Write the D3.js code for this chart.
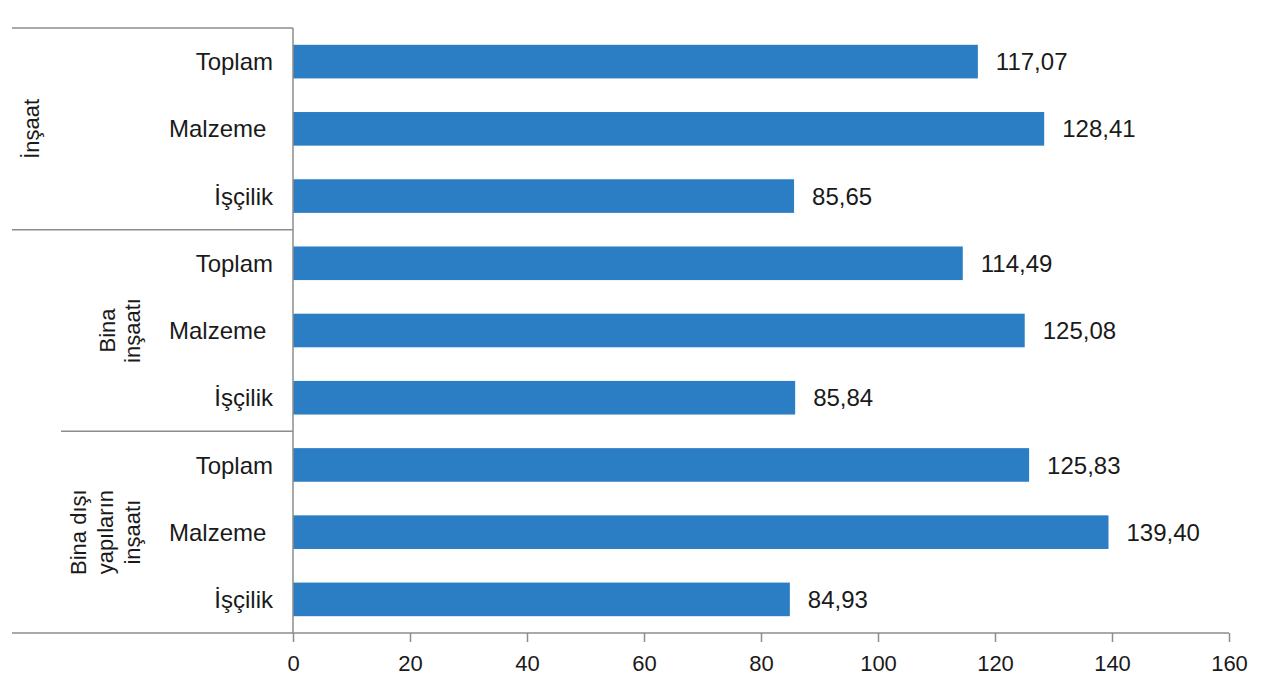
<!DOCTYPE html>
<html>
<head>
<meta charset="utf-8">
<script src="https://cdn.jsdelivr.net/npm/d3@7"></script>
<style>
  html, body { margin: 0; padding: 0; background: #fff; }
  svg { display: block; }
  text { font-family: "Liberation Sans", Arial, sans-serif; fill: #1a1a1a; }
</style>
</head>
<body>
<svg id="chart" width="1280" height="693"></svg>
<script>
// ---- data ----
const groups = [["İnşaat"], ["Bina", "inşaatı"], ["Bina dışı", "yapıların", "inşaatı"]];
const categories = ["Toplam", "Malzeme ", "İşçilik"];
const values = [117.07, 128.41, 85.65, 114.49, 125.08, 85.84, 125.83, 139.40, 84.93];
const xTicks = [0, 20, 40, 60, 80, 100, 120, 140, 160];

// ---- layout ----
const svg = d3.select("#chart");
const mLeft = 293, mRight = 1229, mTop = 28, mBottom = 633;
const axisColor = "#8c8c8c";
const barColor = "#2b7dc4";
const labelSize = 24, tickSize = 22, groupSize = 22;

const rows = [];
groups.forEach((g, gi) => categories.forEach((c, ci) => rows.push({ key: gi + "-" + ci, group: gi, cat: c, value: values[gi * categories.length + ci] })));

const x = d3.scaleLinear().domain([0, 160]).range([mLeft, mRight]);
const y = d3.scaleBand().domain(rows.map(d => d.key)).range([mTop, mBottom]).paddingInner(0.5).paddingOuter(0.25);

// bars
svg.append("g").selectAll("rect").data(rows).join("rect")
  .attr("x", x(0))
  .attr("y", d => y(d.key))
  .attr("width", d => x(d.value) - x(0))
  .attr("height", y.bandwidth())
  .attr("fill", barColor);

// value labels
const fmt = v => d3.format(".2f")(v).replace(".", ",");
svg.append("g").selectAll("text").data(rows).join("text")
  .attr("x", d => x(d.value) + 18)
  .attr("y", d => y(d.key) + y.bandwidth() / 2)
  .attr("dy", "0.36em")
  .attr("font-size", labelSize)
  .text(d => fmt(d.value));

// category labels
svg.append("g").selectAll("text").data(rows).join("text")
  .attr("x", 273)
  .attr("y", d => y(d.key) + y.bandwidth() / 2)
  .attr("dy", "0.36em")
  .attr("text-anchor", "end")
  .attr("font-size", labelSize)
  .style("white-space", "pre")
  .text(d => d.cat);

// x axis
const xAxis = d3.axisBottom(x).tickValues(xTicks).tickSize(9).tickPadding(13).tickFormat(d3.format("d"));
const ax = svg.append("g").attr("transform", `translate(0,${mBottom})`).call(xAxis);
ax.select(".domain").remove();
ax.selectAll(".tick line").attr("stroke", axisColor).attr("stroke-width", 1.5);
ax.selectAll(".tick text").attr("font-size", tickSize).attr("fill", "#1a1a1a")
  .attr("font-family", "Liberation Sans, Arial, sans-serif");

// axis lines & group separators
const lines = svg.append("g").attr("stroke", axisColor).attr("stroke-width", 1.5).attr("fill", "none");
lines.append("line").attr("x1", 12).attr("x2", mRight).attr("y1", mBottom).attr("y2", mBottom);
lines.append("line").attr("x1", mLeft).attr("x2", mLeft).attr("y1", mTop).attr("y2", mBottom);
const n = categories.length;
const sepStarts = [12, 12, 61];
groups.forEach((g, gi) => {
  const yy = gi === 0 ? mTop : (y(rows[gi * n].key) + y(rows[gi * n - 1].key) + y.bandwidth()) / 2;
  lines.append("line").attr("x1", sepStarts[gi]).attr("x2", mLeft).attr("y1", yy).attr("y2", yy);
});

// group labels (rotated)
groups.forEach((g, gi) => {
  const cy = (y(rows[gi * n].key) + y(rows[gi * n + n - 1].key) + y.bandwidth()) / 2;
  const lastBase = g.length === 1 ? 39 : 140;
  const step = g.length === 2 ? 25 : 27;
  g.forEach((line, li) => {
    const bx = lastBase - (g.length - 1 - li) * step;
    svg.append("text")
      .attr("transform", `translate(${bx},${cy}) rotate(-90)`)
      .attr("text-anchor", "middle")
      .attr("font-size", groupSize)
      .text(line);
  });
});
</script>
</body>
</html>
